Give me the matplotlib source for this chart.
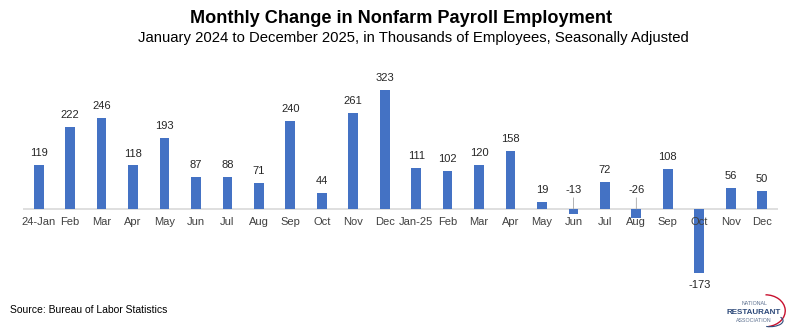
import matplotlib.pyplot as plt
from matplotlib.patches import Arc

plt.rcParams['font.family'] = ['Liberation Sans', 'DejaVu Sans']

months = ["24-Jan", "Feb", "Mar", "Apr", "May", "Jun", "Jul", "Aug", "Sep", "Oct", "Nov", "Dec",
          "Jan-25", "Feb", "Mar", "Apr", "May", "Jun", "Jul", "Aug", "Sep", "Oct", "Nov", "Dec"]
change = [119, 222, 246, 118, 193, 87, 88, 71, 240, 44, 261, 323,
          111, 102, 120, 158, 19, -13, 72, -26, 108, -173, 56, 50]

fig = plt.figure(figsize=(7.98, 3.32), dpi=100)
ax = fig.add_axes([0.0288, 0.1566, 0.946, 0.6024])

x = list(range(len(months)))
ax.bar(x, change, width=0.31, color="#4472C4", zorder=2)
ax.axhline(0, color="#d9d9d9", lw=1.2, zorder=1)
ax.set_xlim(-0.5, len(months) - 0.5)
ax.set_ylim(-193, 350)

for s in ax.spines.values():
    s.set_visible(False)
ax.set_yticks([])
ax.set_xticks([])

# category labels just under the zero line
for i, m in enumerate(months):
    ax.annotate(m, (i, 0), xytext=(0, -6), textcoords="offset points",
                ha="center", va="top", fontsize=8, color="#404040", zorder=3)

# value labels
for i, v in enumerate(change):
    if v >= 0:
        ax.annotate(str(v), (i, v), xytext=(0, 5), textcoords="offset points",
                    ha="center", va="bottom", fontsize=8, color="#262626")
    elif v > -50:
        # small negatives get a callout above the axis
        ax.annotate(str(v), (i, 0), xytext=(0, 10), textcoords="offset points",
                    ha="center", va="bottom", fontsize=8, color="#262626",
                    arrowprops=dict(arrowstyle="-", color="#a6a6a6", lw=0.6,
                                    shrinkA=0, shrinkB=0))
    else:
        ax.annotate(str(v), (i, v), xytext=(0, -5), textcoords="offset points",
                    ha="center", va="top", fontsize=8, color="#262626")

fig.text(0.502, 0.945, "Monthly Change in Nonfarm Payroll Employment", ha="center",
         va="center", fontsize=13.1, fontweight="bold", color="#000000")
fig.text(0.518, 0.885, "January 2024 to December 2025, in Thousands of Employees, Seasonally Adjusted",
         ha="center", va="center", fontsize=10.7, color="#000000")
fig.text(0.013, 0.067, "Source: Bureau of Labor Statistics", ha="left", va="center",
         fontsize=7.5, color="#000000")

# logo
fig.text(0.945, 0.087, "NATIONAL", ha="center", va="center", fontsize=3.8, color="#5b6f8f")
fig.text(0.945, 0.06, "RESTAURANT", ha="center", va="center", fontsize=5.8,
         fontweight="bold", color="#2e4a7a")
fig.text(0.945, 0.035, "ASSOCIATION", ha="center", va="center", fontsize=3.8, color="#5b6f8f")
lax = fig.add_axes([0.94, 0.01, 0.055, 0.12])
lax.set_xlim(0, 1)
lax.set_ylim(0, 1)
lax.axis("off")
lax.add_patch(Arc((0.35, 0.45), 0.9, 0.8, theta1=-80, theta2=90, color="#c8102e", lw=1))
lax.add_patch(Arc((0.45, 0.2), 0.6, 0.3, theta1=-120, theta2=20, color="#2e4a7a", lw=0.8))

fig.savefig("out.png", dpi=100)
